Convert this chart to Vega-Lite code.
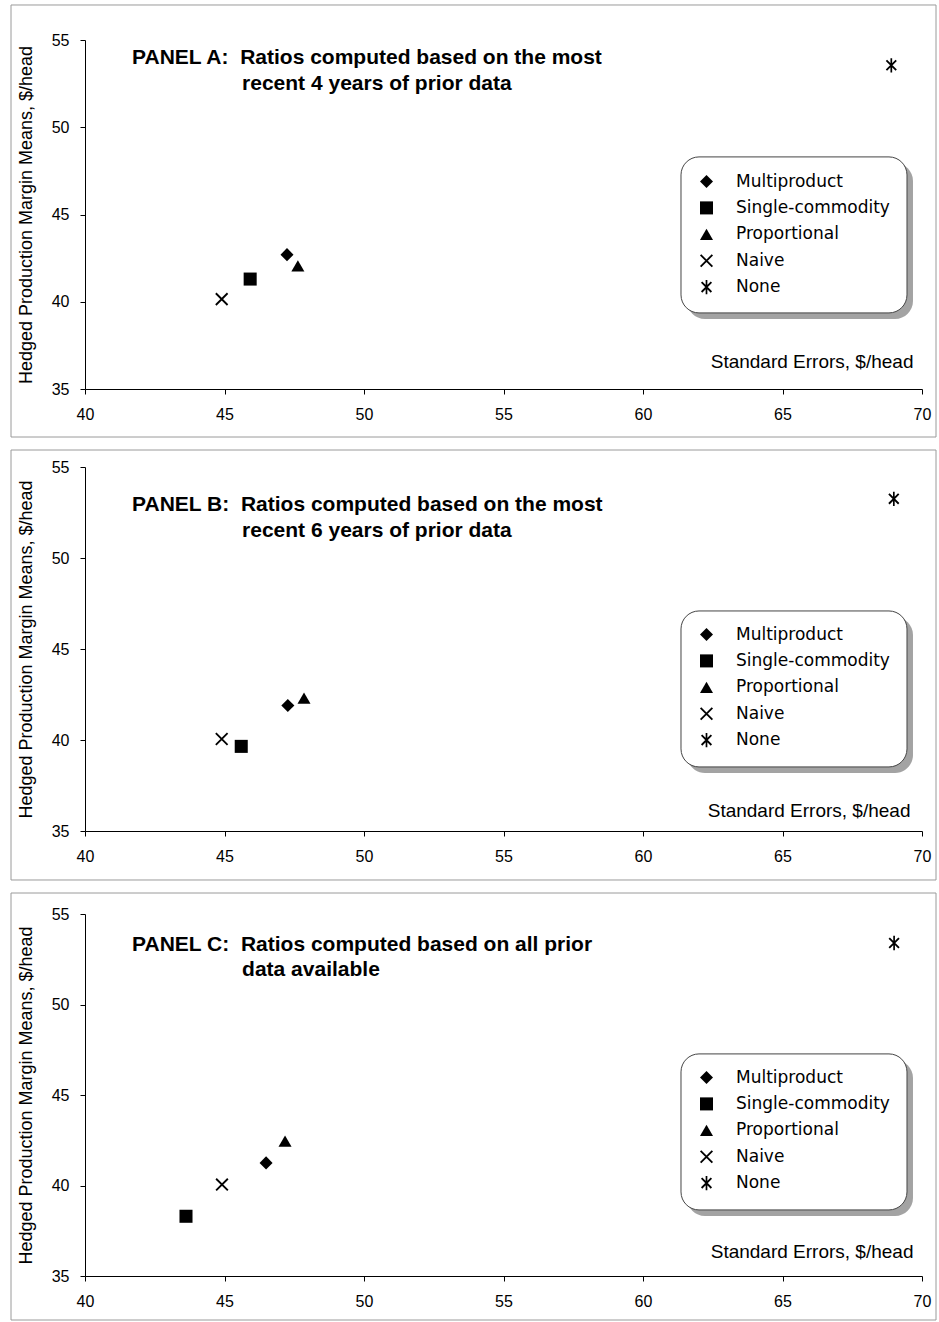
{
  "$schema": "https://vega.github.io/schema/vega-lite/v6.json",
  "background": "white",
  "padding": {"left": 10, "top": 4, "right": 2, "bottom": 1},
  "autosize": {"type": "pad"},
  "spacing": 11,
  "config": {
    "view": {"stroke": null},
    "axis": {
      "grid": false,
      "labelFont": "Liberation Sans",
      "labelFontSize": 16,
      "labelColor": "black",
      "labelFlush": false,
      "domainColor": "black",
      "tickColor": "black",
      "tickSize": 5,
      "titleFont": "Liberation Sans",
      "titleFontWeight": "normal",
      "titleColor": "black"
    },
    "legend": {
      "labelFont": "DejaVu Sans",
      "labelFontSize": 17,
      "labelColor": "black",
      "padding": 0,
      "rowPadding": 8.4,
      "labelOffset": 21,
      "symbolSize": 170,
      "symbolFillColor": "black",
      "symbolStrokeWidth": 0,
      "title": null
    }
  },
  "datasets": {
    "pts": [
      {"panel": "A", "method": "Multiproduct", "x": 47.24, "y": 42.7},
      {"panel": "A", "method": "Single-commodity", "x": 45.92, "y": 41.3},
      {"panel": "A", "method": "Proportional", "x": 47.63, "y": 42.05},
      {"panel": "A", "method": "Naive", "x": 44.9, "y": 40.15},
      {"panel": "A", "method": "None", "x": 68.9, "y": 53.55},
      {"panel": "B", "method": "Multiproduct", "x": 47.27, "y": 41.9},
      {"panel": "B", "method": "Single-commodity", "x": 45.6, "y": 39.65},
      {"panel": "B", "method": "Proportional", "x": 47.85, "y": 42.3},
      {"panel": "B", "method": "Naive", "x": 44.9, "y": 40.05},
      {"panel": "B", "method": "None", "x": 68.99, "y": 53.25},
      {"panel": "C", "method": "Multiproduct", "x": 46.49, "y": 41.25},
      {"panel": "C", "method": "Single-commodity", "x": 43.62, "y": 38.3},
      {"panel": "C", "method": "Proportional", "x": 47.17, "y": 42.45},
      {"panel": "C", "method": "Naive", "x": 44.91, "y": 40.05},
      {"panel": "C", "method": "None", "x": 69.0, "y": 53.4}
    ]
  },
  "resolve": {"legend": {"shape": "independent"}},
  "vconcat": [
    {
      "width": 837,
      "height": 349,
      "layer": [
        {
          "data": {"values": [{}]},
          "mark": {"type": "rect", "fill": null, "stroke": "#9a9a9a", "strokeWidth": 1},
          "encoding": {
            "x": {"datum": 37.348, "type": "quantitative", "scale": {"domain": [40, 70], "nice": false}},
            "x2": {"datum": 70.502},
            "y": {"datum": 57.006, "type": "quantitative", "scale": {"domain": [35, 55], "nice": false}},
            "y2": {"datum": 32.249}
          }
        },
        {
          "data": {"values": [{}]},
          "mark": {"type": "rect", "fill": "#a3a3a3", "cornerRadius": 18},
          "encoding": {
            "x": {"datum": 61.577, "type": "quantitative"},
            "x2": {"datum": 69.677},
            "y": {"datum": 47.95, "type": "quantitative"},
            "y2": {"datum": 39.01}
          }
        },
        {
          "data": {"values": [{}]},
          "mark": {"type": "rect", "fill": "white", "stroke": "#444444", "strokeWidth": 1, "cornerRadius": 18},
          "encoding": {
            "x": {"datum": 61.362, "type": "quantitative"},
            "x2": {"datum": 69.462},
            "y": {"datum": 48.3, "type": "quantitative"},
            "y2": {"datum": 39.36}
          }
        },
        {
          "data": {"name": "pts"},
          "transform": [{"filter": "datum.panel === 'A'"}],
          "mark": {"type": "point", "filled": true, "fill": "black", "strokeWidth": 0, "size": 170, "opacity": 1},
          "encoding": {
            "x": {"field": "x", "type": "quantitative", "scale": {"domain": [40, 70], "nice": false},
              "axis": {"values": [40, 45, 50, 55, 60, 65, 70], "labelPadding": 12, "title": "Standard Errors, $/head", "titleFontSize": 19, "titleAlign": "right", "titleBaseline": "middle", "titleX": 828, "titleY": -28}},
            "y": {"field": "y", "type": "quantitative", "scale": {"domain": [35, 55], "nice": false},
              "axis": {"values": [35, 40, 45, 50, 55], "labelPadding": 11, "title": "Hedged Production Margin Means, $/head", "titleFontSize": 18, "titlePadding": 16}},
            "shape": {"field": "method", "type": "nominal",
              "scale": {"domain": ["Multiproduct", "Single-commodity", "Proportional", "Naive", "None"],
                "range": ["diamond", "square", "triangle-up", "M-1,-0.8L-0.8,-1L1,0.8L0.8,1ZM0.8,-1L1,-0.8L-0.8,1L-1,0.8Z", "M-0.85,-0.65L-0.65,-0.85L0.85,0.65L0.65,0.85ZM0.65,-0.85L0.85,-0.65L-0.65,0.85L-0.85,0.65ZM-0.13,-1.1L0.13,-1.1L0.13,1.1L-0.13,1.1Z"]},
              "legend": {"orient": "none", "legendX": 613, "legendY": 133}}
          }
        },
        {
          "data": {"values": [{}]},
          "mark": {"type": "text", "text": "PANEL A:\u00a0 Ratios computed based on the most", "font": "Liberation Sans", "fontWeight": "bold", "fontSize": 21, "align": "left", "baseline": "middle", "color": "black"},
          "encoding": {"x": {"datum": 41.685, "type": "quantitative"}, "y": {"datum": 53.97, "type": "quantitative"}}
        },
        {
          "data": {"values": [{}]},
          "mark": {"type": "text", "text": "recent 4 years of prior data", "font": "Liberation Sans", "fontWeight": "bold", "fontSize": 21, "align": "left", "baseline": "middle", "color": "black"},
          "encoding": {"x": {"datum": 45.63, "type": "quantitative"}, "y": {"datum": 52.48, "type": "quantitative"}}
        }
      ]
    },
    {
      "width": 837,
      "height": 364,
      "layer": [
        {
          "data": {"values": [{}]},
          "mark": {"type": "rect", "fill": null, "stroke": "#9a9a9a", "strokeWidth": 1},
          "encoding": {
            "x": {"datum": 37.348, "type": "quantitative", "scale": {"domain": [40, 70], "nice": false}},
            "x2": {"datum": 70.502},
            "y": {"datum": 55.934, "type": "quantitative", "scale": {"domain": [35, 55], "nice": false}},
            "y2": {"datum": 32.308}
          }
        },
        {
          "data": {"values": [{}]},
          "mark": {"type": "rect", "fill": "#a3a3a3", "cornerRadius": 18},
          "encoding": {
            "x": {"datum": 61.577, "type": "quantitative"},
            "x2": {"datum": 69.677},
            "y": {"datum": 46.76, "type": "quantitative"},
            "y2": {"datum": 38.19}
          }
        },
        {
          "data": {"values": [{}]},
          "mark": {"type": "rect", "fill": "white", "stroke": "#444444", "strokeWidth": 1, "cornerRadius": 18},
          "encoding": {
            "x": {"datum": 61.362, "type": "quantitative"},
            "x2": {"datum": 69.462},
            "y": {"datum": 47.09, "type": "quantitative"},
            "y2": {"datum": 38.52}
          }
        },
        {
          "data": {"name": "pts"},
          "transform": [{"filter": "datum.panel === 'B'"}],
          "mark": {"type": "point", "filled": true, "fill": "black", "strokeWidth": 0, "size": 170, "opacity": 1},
          "encoding": {
            "x": {"field": "x", "type": "quantitative", "scale": {"domain": [40, 70], "nice": false},
              "axis": {"values": [40, 45, 50, 55, 60, 65, 70], "labelPadding": 12, "title": "Standard Errors, $/head", "titleFontSize": 19, "titleAlign": "right", "titleBaseline": "middle", "titleX": 825, "titleY": -21}},
            "y": {"field": "y", "type": "quantitative", "scale": {"domain": [35, 55], "nice": false},
              "axis": {"values": [35, 40, 45, 50, 55], "labelPadding": 11, "title": "Hedged Production Margin Means, $/head", "titleFontSize": 18, "titlePadding": 16}},
            "shape": {"field": "method", "type": "nominal",
              "scale": {"domain": ["Multiproduct", "Single-commodity", "Proportional", "Naive", "None"],
                "range": ["diamond", "square", "triangle-up", "M-1,-0.8L-0.8,-1L1,0.8L0.8,1ZM0.8,-1L1,-0.8L-0.8,1L-1,0.8Z", "M-0.85,-0.65L-0.65,-0.85L0.85,0.65L0.65,0.85ZM0.65,-0.85L0.85,-0.65L-0.65,0.85L-0.85,0.65ZM-0.13,-1.1L0.13,-1.1L0.13,1.1L-0.13,1.1Z"]},
              "legend": {"orient": "none", "legendX": 613, "legendY": 159}}
          }
        },
        {
          "data": {"values": [{}]},
          "mark": {"type": "text", "text": "PANEL B:\u00a0 Ratios computed based on the most", "font": "Liberation Sans", "fontWeight": "bold", "fontSize": 21, "align": "left", "baseline": "middle", "color": "black"},
          "encoding": {"x": {"datum": 41.685, "type": "quantitative"}, "y": {"datum": 52.91, "type": "quantitative"}}
        },
        {
          "data": {"values": [{}]},
          "mark": {"type": "text", "text": "recent 6 years of prior data", "font": "Liberation Sans", "fontWeight": "bold", "fontSize": 21, "align": "left", "baseline": "middle", "color": "black"},
          "encoding": {"x": {"datum": 45.63, "type": "quantitative"}, "y": {"datum": 51.48, "type": "quantitative"}}
        }
      ]
    },
    {
      "width": 837,
      "height": 362,
      "layer": [
        {
          "data": {"values": [{}]},
          "mark": {"type": "rect", "fill": null, "stroke": "#9a9a9a", "strokeWidth": 1},
          "encoding": {
            "x": {"datum": 37.348, "type": "quantitative", "scale": {"domain": [40, 70], "nice": false}},
            "x2": {"datum": 70.502},
            "y": {"datum": 56.16, "type": "quantitative", "scale": {"domain": [35, 55], "nice": false}},
            "y2": {"datum": 32.569}
          }
        },
        {
          "data": {"values": [{}]},
          "mark": {"type": "rect", "fill": "#a3a3a3", "cornerRadius": 18},
          "encoding": {
            "x": {"datum": 61.577, "type": "quantitative"},
            "x2": {"datum": 69.677},
            "y": {"datum": 46.93, "type": "quantitative"},
            "y2": {"datum": 38.31}
          }
        },
        {
          "data": {"values": [{}]},
          "mark": {"type": "rect", "fill": "white", "stroke": "#444444", "strokeWidth": 1, "cornerRadius": 18},
          "encoding": {
            "x": {"datum": 61.362, "type": "quantitative"},
            "x2": {"datum": 69.462},
            "y": {"datum": 47.27, "type": "quantitative"},
            "y2": {"datum": 38.65}
          }
        },
        {
          "data": {"name": "pts"},
          "transform": [{"filter": "datum.panel === 'C'"}],
          "mark": {"type": "point", "filled": true, "fill": "black", "strokeWidth": 0, "size": 170, "opacity": 1},
          "encoding": {
            "x": {"field": "x", "type": "quantitative", "scale": {"domain": [40, 70], "nice": false},
              "axis": {"values": [40, 45, 50, 55, 60, 65, 70], "labelPadding": 12, "title": "Standard Errors, $/head", "titleFontSize": 19, "titleAlign": "right", "titleBaseline": "middle", "titleX": 828, "titleY": -25}},
            "y": {"field": "y", "type": "quantitative", "scale": {"domain": [35, 55], "nice": false},
              "axis": {"values": [35, 40, 45, 50, 55], "labelPadding": 11, "title": "Hedged Production Margin Means, $/head", "titleFontSize": 18, "titlePadding": 16}},
            "shape": {"field": "method", "type": "nominal",
              "scale": {"domain": ["Multiproduct", "Single-commodity", "Proportional", "Naive", "None"],
                "range": ["diamond", "square", "triangle-up", "M-1,-0.8L-0.8,-1L1,0.8L0.8,1ZM0.8,-1L1,-0.8L-0.8,1L-1,0.8Z", "M-0.85,-0.65L-0.65,-0.85L0.85,0.65L0.65,0.85ZM0.65,-0.85L0.85,-0.65L-0.65,0.85L-0.85,0.65ZM-0.13,-1.1L0.13,-1.1L0.13,1.1L-0.13,1.1Z"]},
              "legend": {"orient": "none", "legendX": 613, "legendY": 155}}
          }
        },
        {
          "data": {"values": [{}]},
          "mark": {"type": "text", "text": "PANEL C:\u00a0 Ratios computed based on all prior", "font": "Liberation Sans", "fontWeight": "bold", "fontSize": 21, "align": "left", "baseline": "middle", "color": "black"},
          "encoding": {"x": {"datum": 41.685, "type": "quantitative"}, "y": {"datum": 53.29, "type": "quantitative"}}
        },
        {
          "data": {"values": [{}]},
          "mark": {"type": "text", "text": "data available", "font": "Liberation Sans", "fontWeight": "bold", "fontSize": 21, "align": "left", "baseline": "middle", "color": "black"},
          "encoding": {"x": {"datum": 45.63, "type": "quantitative"}, "y": {"datum": 51.9, "type": "quantitative"}}
        }
      ]
    }
  ]
}
